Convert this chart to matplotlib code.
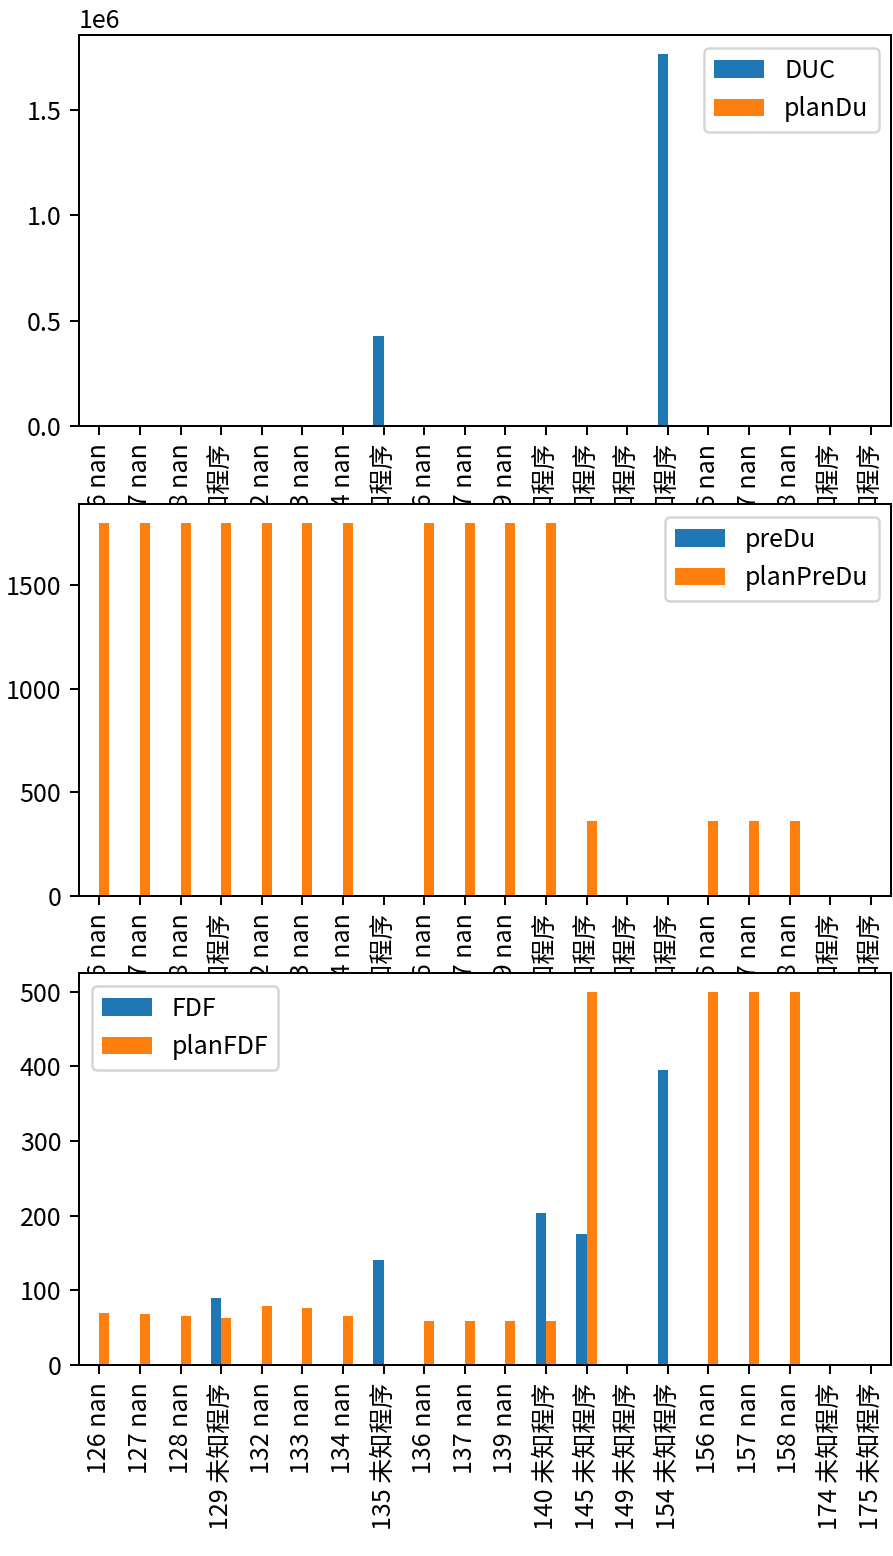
import matplotlib
matplotlib.use("Agg")
import matplotlib.pyplot as plt
import numpy as np

plt.rcParams["font.family"] = ["Noto Sans CJK SC", "DejaVu Sans"]
plt.rcParams["axes.unicode_minus"] = False

# category labels (index id + program name)
ids = [126, 127, 128, 129, 132, 133, 134, 135, 136, 137,
       139, 140, 145, 149, 154, 156, 157, 158, 174, 175]
names = ["nan", "nan", "nan", "未知程序", "nan", "nan", "nan", "未知程序", "nan", "nan",
         "nan", "未知程序", "未知程序", "未知程序", "未知程序", "nan", "nan", "nan", "未知程序", "未知程序"]
labels = [f"{i} {n}" for i, n in zip(ids, names)]

# panel 1: durations
duc = [0, 0, 0, 0, 0, 0, 0, 427000, 0, 0,
       0, 0, 0, 0, 1767000, 0, 0, 0, 0, 0]
plan_du = [3600, 3600, 3600, 3600, 3600, 3600, 3600, 0, 3600, 3600,
           3600, 3600, 720, 0, 0, 720, 720, 720, 0, 0]

# panel 2: pre-durations
pre_du = [0] * 20
plan_pre_du = [1800, 1800, 1800, 1800, 1800, 1800, 1800, 0, 1800, 1800,
               1800, 1800, 360, 0, 0, 360, 360, 360, 0, 0]

# panel 3: FDF
fdf = [0, 0, 0, 90, 0, 0, 0, 140, 0, 0,
       0, 204, 175, 0, 395, 0, 0, 0, 0, 0]
plan_fdf = [70, 68, 65, 63, 79, 77, 65, 0, 59, 59,
            59, 59, 500, 0, 0, 500, 500, 500, 0, 0]

panels = [
    ("DUC", duc, "planDu", plan_du, "upper right"),
    ("preDu", pre_du, "planPreDu", plan_pre_du, "upper right"),
    ("FDF", fdf, "planFDF", plan_fdf, "upper left"),
]

W, H, DPI = 893, 1556, 180
fig = plt.figure(figsize=(W / DPI, H / DPI), dpi=DPI)

# axes boxes in pixels: (left, top, right, bottom)
boxes = [(79, 35, 891, 426), (79, 504, 891, 896), (79, 973, 891, 1365)]

x = np.arange(len(labels))
w = 0.25
for (lab_a, vals_a, lab_b, vals_b, loc), (l, t, r, b) in zip(panels, boxes):
    ax = fig.add_axes([l / W, 1 - b / H, (r - l) / W, (b - t) / H])
    ax.bar(x - w / 2, vals_a, w, color="#1f77b4", label=lab_a)
    ax.bar(x + w / 2, vals_b, w, color="#ff7f0e", label=lab_b)
    ax.set_xlim(-0.5, len(labels) - 0.5)
    ax.set_xticks(x)
    ax.set_xticklabels(labels, rotation=90)
    ax.legend(loc=loc)

fig.savefig("out.png", dpi=DPI)
